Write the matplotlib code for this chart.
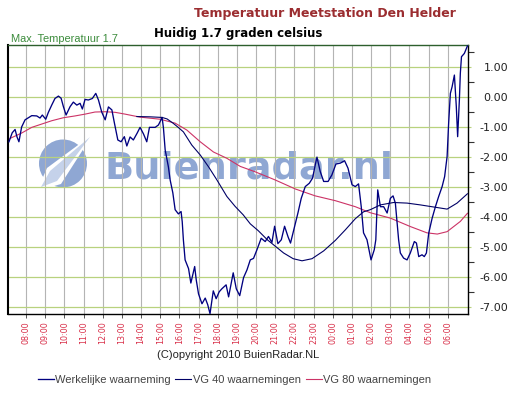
import numpy as np
import matplotlib
matplotlib.use('Agg')
import matplotlib.pyplot as plt
from matplotlib.patches import Circle, Polygon

# hours after 08:00 and temperature (deg C)
obs_t = [-0.89, -0.72, -0.57, -0.47, -0.37, -0.23, -0.05, 0.30, 0.56, 0.73,
         0.85, 1.03, 1.16, 1.34, 1.51, 1.69, 1.83, 1.95, 2.09, 2.30,
         2.47, 2.65, 2.82, 2.94, 3.08, 3.25, 3.46, 3.64, 3.78, 3.95,
         4.13, 4.30, 4.48, 4.61, 4.79, 4.96, 5.13, 5.26, 5.43, 5.60,
         5.80, 5.95, 6.13, 6.30, 6.44, 6.74, 6.91, 7.10, 7.17, 7.26,
         7.43, 7.52, 7.66, 7.78, 7.95, 8.09, 8.15, 8.21, 8.30, 8.48,
         8.60, 8.80, 8.88, 9.00, 9.18, 9.35, 9.48, 9.60, 9.77, 9.92,
         10.08, 10.22, 10.44, 10.57, 10.81, 10.97, 11.15, 11.35, 11.53, 11.70,
         11.87, 12.05, 12.27, 12.48, 12.65, 12.83, 12.97, 13.14, 13.32, 13.49,
         13.67, 13.80, 14.01, 14.19, 14.36, 14.57, 14.78, 14.95, 15.09, 15.18,
         15.35, 15.53, 15.76, 15.96, 16.17, 16.40, 16.62, 16.80, 17.01, 17.18,
         17.35, 17.49, 17.61, 17.79, 18.00, 18.17, 18.25, 18.35, 18.49, 18.66,
         18.84, 19.01, 19.15, 19.27, 19.44, 19.53, 19.70, 19.88, 20.05, 20.26,
         20.37, 20.49, 20.66, 20.78, 20.89, 21.01, 21.19, 21.36, 21.53, 21.71,
         21.84, 21.97, 22.05, 22.14, 22.23, 22.35, 22.45, 22.52, 22.61, 22.66,
         22.72, 22.87, 23.03]
obs_v = [-1.49, -1.19, -1.08, -1.33, -1.49, -1.00, -0.76, -0.62, -0.63, -0.70,
         -0.60, -0.74, -0.52, -0.27, -0.05, 0.03, -0.04, -0.32, -0.60, -0.32,
         -0.17, -0.27, -0.21, -0.40, -0.08, -0.10, -0.05, 0.12, -0.10, -0.50,
         -0.76, -0.33, -0.43, -0.86, -1.43, -1.49, -1.32, -1.63, -1.33, -1.43,
         -1.20, -1.01, -1.23, -1.49, -1.01, -1.01, -0.93, -0.68, -1.03, -1.76,
         -2.33, -2.76, -3.19, -3.75, -3.89, -3.81, -4.15, -4.75, -5.42, -5.71,
         -6.19, -5.64, -6.08, -6.55, -6.88, -6.69, -6.91, -7.21, -6.45, -6.71,
         -6.48, -6.38, -6.25, -6.65, -5.85, -6.38, -6.61, -6.01, -5.75, -5.42,
         -5.37, -5.08, -4.70, -4.81, -4.64, -4.84, -4.30, -4.88, -4.75, -4.30,
         -4.65, -4.86, -4.32, -3.85, -3.37, -2.98, -2.87, -2.70, -2.26, -2.00,
         -2.48, -2.81, -2.81, -2.59, -2.23, -2.20, -2.12, -2.37, -2.92, -2.98,
         -2.89, -3.65, -4.52, -4.75, -5.42, -5.08, -4.75, -3.09, -3.65, -3.65,
         -3.86, -3.37, -3.29, -3.53, -4.75, -5.19, -5.36, -5.42, -5.19, -4.81,
         -4.86, -5.31, -5.25, -5.31, -5.19, -4.53, -4.03, -3.65, -3.31, -2.98,
         -2.65, -1.98, -0.87, 0.12, 0.34, 0.73, -0.32, -1.32, -0.10, 0.79,
         1.34, 1.45, 1.70]

vg40_t = [5.78, 6.48, 7.10, 7.36, 7.69, 7.94, 8.21, 8.65, 9.09, 9.52,
          9.96, 10.48, 10.91, 11.33, 11.70, 12.12, 12.59, 13.44, 13.94, 14.40,
          14.92, 15.53, 16.14, 16.66, 17.18, 17.61, 17.96, 18.49, 19.18, 19.88,
          20.57, 21.27, 21.97, 22.49, 23.03]
vg40_v = [-0.65, -0.66, -0.68, -0.73, -0.88, -1.01, -1.16, -1.60, -1.93, -2.32,
          -2.76, -3.31, -3.64, -3.92, -4.22, -4.45, -4.75, -5.19, -5.38, -5.45,
          -5.38, -5.12, -4.77, -4.42, -4.05, -3.82, -3.75, -3.59, -3.51, -3.53,
          -3.59, -3.66, -3.73, -3.53, -3.22]

vg80_t = [-0.84, -0.23, 0.30, 0.82, 1.34, 1.95, 2.56, 3.08, 3.60, 4.13,
          4.65, 5.17, 5.95, 7.00, 7.78, 8.39, 9.09, 9.78, 10.48, 11.18,
          11.96, 13.00, 14.05, 15.09, 16.14, 17.18, 17.96, 19.01, 20.05, 20.92,
          21.46, 21.97, 22.66, 23.03]
vg80_v = [-1.38, -1.20, -1.01, -0.90, -0.79, -0.69, -0.63, -0.57, -0.50, -0.49,
          -0.51, -0.57, -0.67, -0.74, -0.87, -1.10, -1.49, -1.83, -2.04, -2.31,
          -2.49, -2.76, -3.06, -3.29, -3.45, -3.65, -3.85, -4.03, -4.31, -4.52,
          -4.56, -4.48, -4.14, -3.87]

hour_labels = ['08:00', '09:00', '10:00', '11:00', '12:00', '13:00', '14:00',
               '15:00', '16:00', '17:00', '18:00', '19:00', '20:00', '21:00',
               '22:00', '23:00', '00:00', '01:00', '02:00', '03:00', '04:00',
               '05:00', '06:00']
temp_ticks = [1, 0, -1, -2, -3, -4, -5, -6, -7]

W, H = 519, 398
fig = plt.figure(figsize=(W / 100, H / 100), dpi=100)
ax = fig.add_axes([8 / W, 1 - 314 / H, 460 / W, 269 / H])

l1, = ax.plot(obs_t, obs_v, color='#000080', lw=0.95, zorder=3,
              label='Werkelijke waarneming')
l2, = ax.plot(vg40_t, vg40_v, color='#000066', lw=0.8, zorder=3,
              label='VG 40 waarnemingen')
l3, = ax.plot(vg80_t, vg80_v, color='#cc3366', lw=0.8, zorder=2.5,
              label='VG 80 waarnemingen')

ax.set_xlim(-0.94, 23.06)
ax.set_ylim(-7.22, 1.73)

# ticks and grid
ax.set_xticks(range(len(hour_labels)))
ax.set_xticklabels(hour_labels, rotation=90, fontsize=5.8, color='#d9304a')
ax.set_yticks(temp_ticks)
ax.set_yticklabels(['%.2f' % v for v in temp_ticks], fontsize=8, color='#222222')
ax.set_yticks(np.arange(-6.5, 2, 1), minor=True)
ax.yaxis.tick_right()
for lab in ax.get_yticklabels():
    lab.set_horizontalalignment('right')
ax.tick_params(axis='y', which='major', length=2, color='#b8d27e', pad=26.8)
ax.tick_params(axis='y', which='minor', length=4.5, color='#333333', width=0.8)
ax.tick_params(axis='x', length=3, color='#555555', width=0.7, pad=2)
ax.xaxis.grid(True, color='#b4b4b4', lw=0.8)
ax.yaxis.grid(True, which='major', color='#b8d27e', lw=0.9)
ax.set_axisbelow(True)

for s in ['left', 'bottom', 'right']:
    ax.spines[s].set_color('black')
    ax.spines[s].set_linewidth(1.0)
ax.spines['left'].set_linewidth(1.5)
ax.spines['top'].set_color('#2d5f2d')
ax.spines['top'].set_linestyle((0, (2, 1)))
ax.spines['top'].set_linewidth(1.0)

# watermark, under the grid
wm = '#8fa7d3'
ax.text(105 / W, 1 - 178 / H, 'Buienradar.nl', transform=fig.transFigure,
        fontsize=27.5, fontweight='bold', color=wm,
        ha='left', va='baseline', zorder=0.2)
px = lambda x, y: (x / 100, (H - y) / 100)
ax.add_patch(Circle(px(63, 163.5), 0.24, transform=fig.dpi_scale_trans,
                    color=wm, zorder=0.2, lw=0))
ax.add_patch(Polygon([px(37, 191), px(47, 168), px(93, 134), px(61, 184)],
                     closed=True, transform=fig.dpi_scale_trans,
                     color='white', zorder=0.25, lw=0))
ax.add_patch(Polygon([px(41, 187), px(50, 171), px(90, 137), px(57, 181)],
                     closed=True, transform=fig.dpi_scale_trans,
                     color='#c5d2ea', zorder=0.3, lw=0))

# titles
fig.text(325 / W, 1 - 14 / H, 'Temperatuur Meetstation Den Helder',
         fontsize=9, fontweight='bold', color='#9b2d30', ha='center', va='center')
fig.text(238.5 / W, 1 - 34 / H, 'Huidig 1.7 graden celsius',
         fontsize=8.5, fontweight='bold', color='black', ha='center', va='center')
fig.text(11 / W, 1 - 39.5 / H, 'Max. Temperatuur 1.7', fontsize=7.9,
         family='Liberation Sans', color='#3c8c3c', ha='left', va='center')
fig.text(238 / W, 1 - 355 / H, '(C)opyright 2010 BuienRadar.NL', fontsize=8,
         family='Liberation Sans', color='#222222', ha='center', va='center')

leg = fig.legend(handles=[l1, l2, l3], loc='center', ncol=3, frameon=False,
                 bbox_to_anchor=(234.5 / W, 1 - 380 / H), handlelength=1.45,
                 handletextpad=0.15, columnspacing=0.4,
                 prop={'family': 'Liberation Sans', 'size': 8})
for t in leg.get_texts():
    t.set_color('#444444')

fig.savefig('out.png', dpi=100)
